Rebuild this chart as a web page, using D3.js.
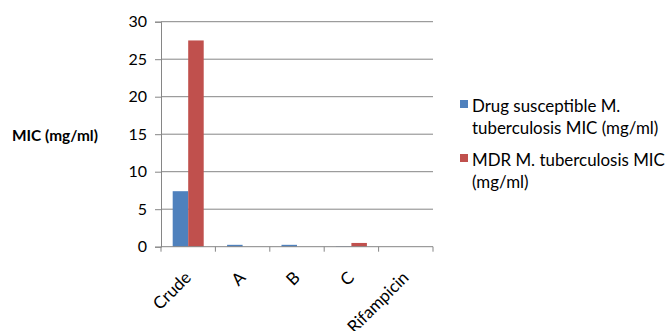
<!DOCTYPE html>
<html><head><meta charset="utf-8">
<script src="https://cdn.jsdelivr.net/npm/d3@7"></script>
<style>body{margin:0;background:#fff}svg{display:block}text{font-family:Lato,"Open Sans",sans-serif;fill:#000}</style>
</head><body><svg id="c" width="667" height="331"></svg>
<script>
const categories = ["Crude","A","B","C","Rifampicin"];
const seriesNames = ["Drug susceptible M. tuberculosis MIC (mg/ml)","MDR M. tuberculosis MIC (mg/ml)"];
const susceptible = [7.4, 0.25, 0.25, 0.05, 0];
const mdr = [27.5, 0, 0, 0.5, 0];
const yTicks = [0,5,10,15,20,25,30];
const legendLines = [["Drug susceptible M.","tuberculosis MIC (mg/ml)"],["MDR M. tuberculosis MIC","(mg/ml)"]];
const colors = ["#4F81BD","#C0504D"];

const svg = d3.select("#c");
const L=161, R=433, T=21.7, B=246.7;
const x = d3.scaleBand().domain(categories).range([L,R]).paddingInner(0.43).paddingOuter(0.215);
const x1 = d3.scaleBand().domain([0,1]).range([0,x.bandwidth()]);
const y = d3.scaleLinear().domain([0,30]).range([B,T]);

// gridlines
svg.append("g").selectAll("line").data(yTicks.slice(1)).join("line")
  .attr("x1",L).attr("x2",R).attr("y1",d=>y(d)).attr("y2",d=>y(d))
  .attr("stroke","#868686").attr("stroke-width",1);

const data = [susceptible, mdr];
data.forEach((vals,si)=>{
  svg.append("g").selectAll("rect").data(vals.map((v,i)=>({c:categories[i],v}))).join("rect")
    .attr("x",d=>x(d.c)+x1(si)).attr("width",x1.bandwidth())
    .attr("y",d=>y(d.v)).attr("height",d=>B-y(d.v))
    .attr("fill",colors[si]);
});

// y axis
const ya = svg.append("g").attr("transform",`translate(${L},0)`)
  .call(d3.axisLeft(y).tickValues(yTicks).tickSize(6).tickPadding(8));
ya.select(".domain").attr("stroke","#868686");
ya.selectAll(".tick line").attr("stroke","#868686");
ya.selectAll(".tick text").style("font-size","16px").style("font-family","Lato, sans-serif").attr("fill","#000");

// x axis
const xa = svg.append("g").attr("transform",`translate(0,${B})`);
xa.append("line").attr("x1",L).attr("x2",R).attr("stroke","#868686");
const step = (R-L)/categories.length;
xa.selectAll("line.t").data(d3.range(categories.length+1)).join("line").attr("class","t")
  .attr("x1",i=>L+i*step).attr("x2",i=>L+i*step).attr("y1",0).attr("y2",5).attr("stroke","#868686");
xa.selectAll("text").data(categories).join("text")
  .attr("transform",d=>`translate(${x(d)+x.bandwidth()/2+4},${32}) rotate(-45)`)
  .attr("text-anchor","end").style("font-size","17px").text(d=>d);

// y title
svg.append("text").attr("x",12).attr("y",141).style("font-size","15.4px").style("font-weight","bold").text("MIC (mg/ml)");

// legend
const lg = svg.append("g");
legendLines.forEach((lines,i)=>{
  const y0 = 108 + i*54;
  lg.append("rect").attr("x",460).attr("y",y0-8).attr("width",8).attr("height",8).attr("fill",colors[i]);
  lines.forEach((t,j)=>{
    lg.append("text").attr("x",472).attr("y",y0+4+j*22).style("font-size","16.9px").text(t);
  });
});
</script></body></html>
